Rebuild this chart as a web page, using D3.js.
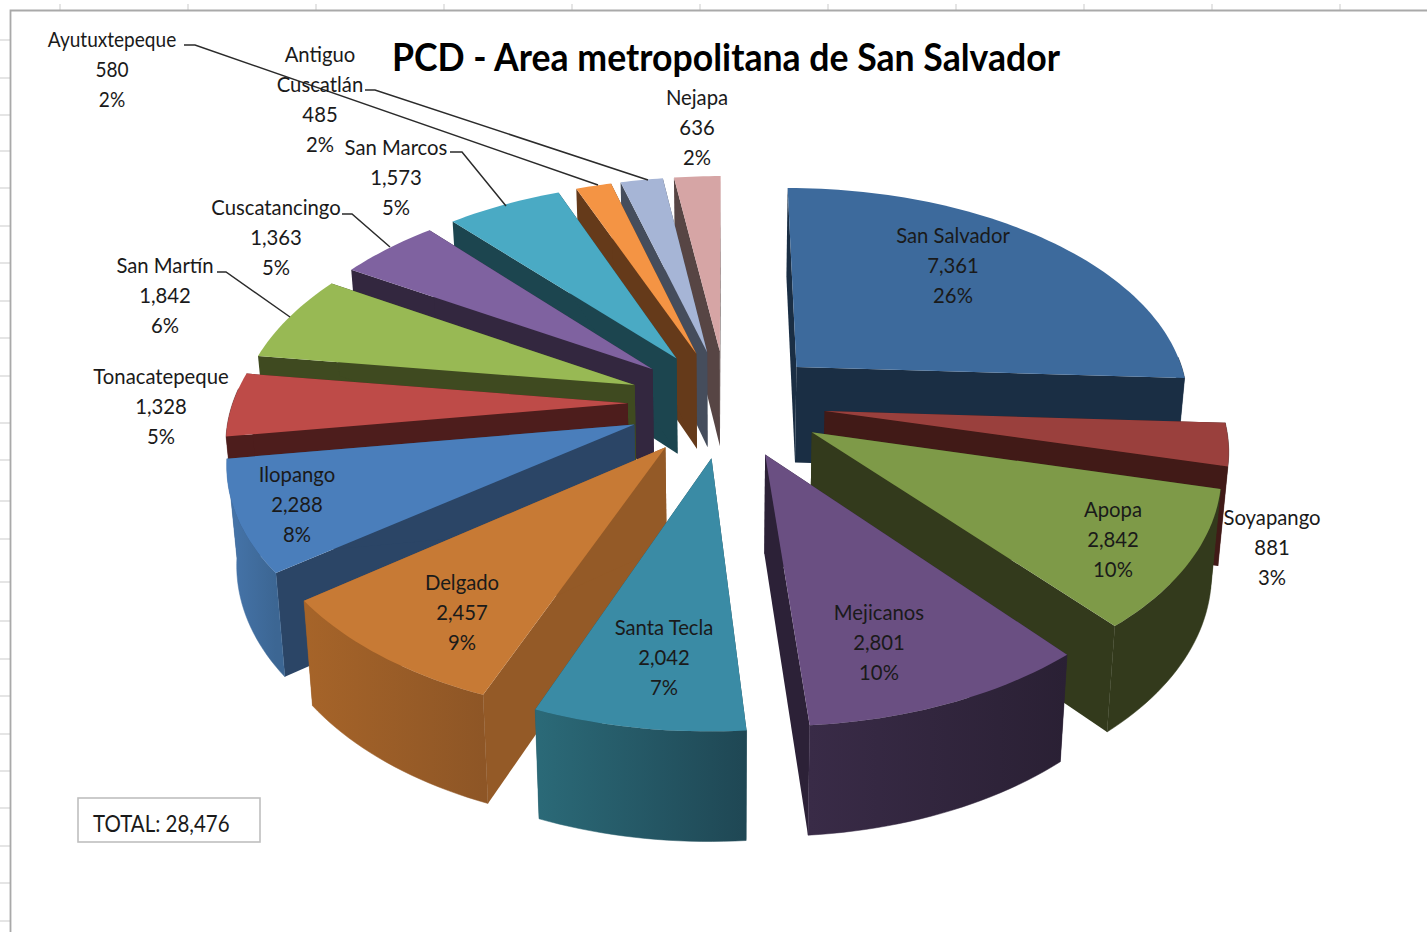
<!DOCTYPE html>
<html><head><meta charset="utf-8">
<script src="https://cdn.jsdelivr.net/npm/d3@7/dist/d3.min.js"></script>
<style>html,body{margin:0;background:#fff}svg{display:block}</style></head>
<body><svg id="c" width="1427" height="932"></svg>
<script>
const categories=["San Salvador","Soyapango","Apopa","Mejicanos","Santa Tecla","Delgado","Ilopango","Tonacatepeque","San Martín","Cuscatancingo","San Marcos","Antiguo Cuscatlán","Ayutuxtepeque","Nejapa"];
const values=[7361,881,2842,2801,2042,2457,2288,1328,1842,1363,1573,485,580,636];
const percents=["26%","3%","10%","10%","7%","9%","8%","5%","6%","5%","5%","2%","2%","2%"];
const topColors=["#3d6a9c","#9a403d","#7e9a48","#6a4f82","#3a8ba5","#c77a35","#4a7ebb","#be4b48","#98b954","#7f62a0","#4aaac4","#f49444","#a6b5d6","#d6a5a5"];
const sideColors=["#1a2e44","#411a17","#333a1c","#2c2137","#1d4650","#945a27","#2b4566","#4d1d1c","#3f4a20","#33273f","#1c454f","#653a1a","#454d5c","#574544"];
const outerLight=["#1a2e44","#411a17","#333a1c","#392b47","#2b6a78","#a66429","#4675ab","#4d1d1c","#3f4a20","#33273f","#1c454f","#653a1a","#454d5c","#574544"];
const outerDark=["#1a2e44","#411a17","#333a1c","#2a2034","#1f4754","#8e5626","#3c6693","#4d1d1c","#3f4a20","#33273f","#1c454f","#653a1a","#454d5c","#574544"];
const chartTitle="PCD - Area metropolitana de San Salvador";
const totalLabel="TOTAL: 28,476";
const valueFmt=d3.format(",");

// layout (separate from data)
const labelCentres=[[953,236],[1272,518],[1113,510],[879,613],[664,628],[462,583],[297,475],[161,377],[165,266],[276,208],[396,148],[320,55],[112,40],[697,98]];
const labelSquash=[.99,.99,.99,.99,.99,.99,.99,.99,.99,.99,.99,.99,.93,.99];
const leaders=[[[450,152],[462,152],[506,206]],[[365,90],[375,90],[648,180]],[[184,45],[195,45],[598,185]],[[342,214],[352,214],[390,247]],[[217,272],[226,272],[290,317]]];
const topTicks=d3.range(60,1427,128);
const leftTicks=[40,78,115,151,188,226,263,301,338,376,423,460,501,539,582,621,659,696,734,771,808,846,883,921];
const cx=726.5,cy=403,RX=395,RY=215,P=0.147,EXPLODE=0.25;
const DEPTH_SX=0.98,DEPTH_SY=1.04,DEPTH=97;

const svg=d3.select("#c");
const defs=svg.append("defs");

// spreadsheet frame
svg.append("g").selectAll("line").data(topTicks).join("line")
 .attr("x1",d=>d).attr("x2",d=>d).attr("y1",4).attr("y2",10).attr("stroke","#dcdcdc").attr("stroke-width",1.5);
svg.append("g").selectAll("line").data(leftTicks).join("line")
 .attr("y1",d=>d).attr("y2",d=>d).attr("x1",0).attr("x2",10).attr("stroke","#dcdcdc").attr("stroke-width",1.5);
svg.append("path").attr("d","M1427,10.5H10.5V932").attr("fill","none").attr("stroke","#a9a9a9").attr("stroke-width",1.8);

const project=(u,v,bottom)=>{
  const w=1-P*v; let x=RX*u/w, y=RY*v/w;
  if(bottom){x*=DEPTH_SX;y=y*DEPTH_SY+DEPTH;}
  return [cx+x,cy+y];
};
const arcs=d3.pie().sort(null).value(d=>d)(values).map((a,i)=>({...a,i}));
const polar=(a,r,d,b)=>{
  const mid=(d.startAngle+d.endAngle)/2;
  return project(r*Math.sin(a)+EXPLODE*Math.sin(mid),-r*Math.cos(a)-EXPLODE*Math.cos(mid),b);
};
const line=d3.line();
const ordered=[...arcs].sort((p,q)=>{
  const f=d=>-Math.cos((d.startAngle+d.endAngle)/2);
  return f(p)-f(q);
});
const pie=svg.append("g");
ordered.forEach(d=>{
  const n=Math.max(8,Math.ceil((d.endAngle-d.startAngle)*40));
  const angles=d3.range(n+1).map(k=>d.startAngle+(d.endAngle-d.startAngle)*k/n);
  const g=pie.append("g");
  const id="g"+d.i;
  const tp=angles.map(a=>polar(a,1,d,false)), bt=angles.map(a=>polar(a,1,d,true));
  const xs=tp.map(p=>p[0]);
  const lg=defs.append("linearGradient").attr("id",id).attr("gradientUnits","userSpaceOnUse")
    .attr("x1",d3.min(xs)).attr("x2",d3.max(xs)).attr("y1",0).attr("y2",0);
  lg.append("stop").attr("offset",0).attr("stop-color",outerLight[d.i]);
  lg.append("stop").attr("offset",1).attr("stop-color",outerDark[d.i]);
  const aT=polar(0,0,d,false), aB=polar(0,0,d,true);
  [[d.startAngle,0],[d.endAngle,n]].forEach(([a,k])=>{
    g.append("path").attr("d",line([aT,tp[k],bt[k],aB])+"Z").attr("fill",sideColors[d.i]);
  });
  const front=angles.filter(a=>Math.cos(a)<0.07);
  if(front.length>1){
    const ft=front.map(a=>polar(a,1,d,false)), fb=front.map(a=>polar(a,1,d,true));
    g.append("path").attr("d",line([...ft,...fb.reverse()])+"Z").attr("fill",`url(#${id})`).attr("stroke",`url(#${id})`).attr("stroke-width",0.5);
  }
  g.append("path").attr("d",line([aT,...tp])+"Z").attr("fill",topColors[d.i]);
});

// leader lines
leaders.forEach(pts=>{
  svg.append("path").attr("d",line(pts)).attr("fill","none").attr("stroke","#2b2b2b").attr("stroke-width",1.5);
});

// labels
const labels=svg.append("g").attr("font-family","Lato, 'Open Sans', sans-serif").attr("font-size",20.5).attr("fill","#1a1a1a").attr("text-anchor","middle");
categories.forEach((c,i)=>{
  const [x,y]=labelCentres[i];
  const lines=i===11?["Antiguo","Cuscatlán",valueFmt(values[i]),percents[i]]:[c,valueFmt(values[i]),percents[i]];
  lines.forEach((s,j)=>labels.append("text").attr("transform",`translate(${x},${y+7+j*30}) scale(${labelSquash[i]},1)`).text(s));
});

svg.append("text").attr("x",392).attr("y",71).attr("font-family","Lato, sans-serif").attr("font-weight",700)
 .attr("font-size",38).attr("fill","#000").attr("textLength",668).attr("lengthAdjust","spacingAndGlyphs").text(chartTitle);

svg.append("rect").attr("x",78).attr("y",798).attr("width",182).attr("height",44).attr("fill","#fff").attr("stroke","#bfbfbf").attr("stroke-width",1.6);
svg.append("text").attr("transform","translate(93,832) scale(0.89,1)").attr("font-family","Lato, sans-serif").attr("font-size",23).attr("fill","#1a1a1a").text(totalLabel);
</script></body></html>
